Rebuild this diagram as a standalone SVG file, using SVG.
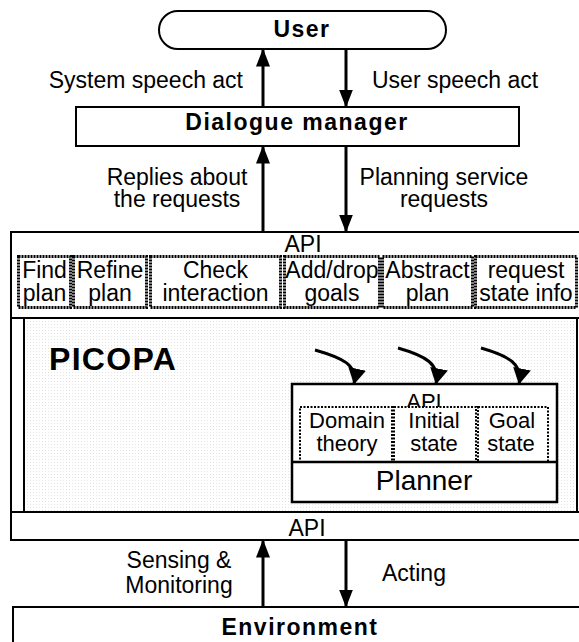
<svg xmlns="http://www.w3.org/2000/svg" width="579" height="642" viewBox="0 0 579 642">
<defs>
<style>
.t{font-family:"Liberation Sans",Arial,sans-serif;font-size:23px;fill:#000}
.b{font-weight:bold;letter-spacing:1.5px}
.c{text-anchor:middle}
.box{fill:#fff;stroke:#000;stroke-width:2}
.dot{fill:#fff;stroke:#000;stroke-width:3;stroke-dasharray:2 1}
.dot2{fill:#fff;stroke:#000;stroke-width:2;stroke-dasharray:2 1.5}
.ln{stroke:#000;stroke-width:3;fill:none}
.thin{stroke:#000;stroke-width:2;fill:none}
</style>
<marker id="ah" viewBox="0 0 18 14" refX="17.5" refY="7" markerWidth="18" markerHeight="14" markerUnits="userSpaceOnUse" orient="auto"><path d="M0,0 L18,7 L0,14 z" fill="#000"/></marker>
<marker id="ch" viewBox="0 0 16 18" refX="15.5" refY="9" markerWidth="16" markerHeight="18" markerUnits="userSpaceOnUse" orient="auto"><path d="M0,0 L16,9 L0,18 z" fill="#000"/></marker>
<pattern id="dots" width="3" height="3" patternUnits="userSpaceOnUse"><rect width="3" height="3" fill="#fff"/><rect width="1" height="1" fill="#e4e4e4"/></pattern>
</defs>
<rect width="579" height="642" fill="#fff"/>

<g id="user">
<rect class="box" x="159" y="11" width="287" height="38" rx="19"/>
<text class="t b c" x="302" y="37">User</text>
</g>

<g id="dialogue-manager">
<rect class="box" x="76" y="107" width="443" height="39"/>
<text class="t b c" x="297" y="130">Dialogue manager</text>
</g>

<g id="picopa">
<rect class="box" x="11" y="232" width="600" height="308"/>
<rect x="24" y="318" width="553" height="194" fill="url(#dots)" stroke="#000" stroke-width="2"/>
<line class="thin" x1="11" y1="318" x2="590" y2="318"/>
<line class="thin" x1="11" y1="512" x2="590" y2="512"/>
<text class="t c" x="303" y="252">API</text>
<g id="find-plan"><rect class="dot" x="18.5" y="256.5" width="52" height="51"/><text class="t c" x="44.5" y="278">Find</text><text class="t c" x="44.5" y="301">plan</text></g>
<g id="refine-plan"><rect class="dot" x="73.5" y="256.5" width="73" height="51"/><text class="t c" x="110" y="278">Refine</text><text class="t c" x="110" y="301">plan</text></g>
<g id="check-interaction"><rect class="dot" x="150.5" y="256.5" width="130" height="51"/><text class="t c" x="215.5" y="278">Check</text><text class="t c" x="215.5" y="301">interaction</text></g>
<g id="add-drop-goals"><rect class="dot" x="284.5" y="256.5" width="95" height="51"/><text class="t c" x="332" y="278">Add/drop</text><text class="t c" x="332" y="301">goals</text></g>
<g id="abstract-plan"><rect class="dot" x="382.5" y="256.5" width="90" height="51"/><text class="t c" x="427.5" y="278">Abstract</text><text class="t c" x="427.5" y="301">plan</text></g>
<g id="request-state-info"><rect class="dot" x="475.5" y="256.5" width="101" height="51"/><text class="t c" x="526" y="278">request</text><text class="t c" x="526" y="301">state info</text></g>
<text class="t" x="49" y="370" style="font-size:32px;font-weight:bold;letter-spacing:1.3px">PICOPA</text>
<text class="t c" x="307" y="536">API</text>
</g>

<g id="planner">
<rect x="292" y="384" width="265" height="118" fill="#fff" stroke="#000" stroke-width="2.5"/>
<text class="t c" x="424" y="409" style="font-size:22px">API</text>
<g id="domain-theory"><rect class="dot2" x="300" y="407" width="92" height="55"/><text class="t c" x="347" y="428" style="font-size:22px">Domain</text><text class="t c" x="347" y="451" style="font-size:22px">theory</text></g>
<g id="initial-state"><rect class="dot2" x="394" y="407" width="82" height="55"/><text class="t c" x="434" y="428" style="font-size:22px">Initial</text><text class="t c" x="434" y="451" style="font-size:22px">state</text></g>
<g id="goal-state"><rect class="dot2" x="478" y="407" width="70" height="55"/><text class="t c" x="512" y="428" style="font-size:22px">Goal</text><text class="t c" x="511" y="451" style="font-size:22px">state</text></g>
<line x1="292" y1="462" x2="557" y2="462" stroke="#000" stroke-width="2.5"/>
<text class="t c" x="424" y="490" style="font-size:28px">Planner</text>
</g>

<g id="environment">
<rect class="box" x="13" y="607" width="600" height="60"/>
<text class="t b c" x="300" y="635">Environment</text>
</g>

<g id="connectors">
<line class="ln" x1="263" y1="107" x2="263" y2="49" marker-end="url(#ah)"/>
<line class="ln" x1="346" y1="49" x2="346" y2="107" marker-end="url(#ah)"/>
<line class="ln" x1="263" y1="232" x2="263" y2="146" marker-end="url(#ah)"/>
<line class="ln" x1="346" y1="146" x2="346" y2="232" marker-end="url(#ah)"/>
<line class="ln" x1="263" y1="607" x2="263" y2="540" marker-end="url(#ah)"/>
<line class="ln" x1="346" y1="540" x2="346" y2="607" marker-end="url(#ah)"/>
<path class="ln" d="M315,350 C343,358 358,365 354,384" marker-end="url(#ch)"/>
<path class="ln" d="M398,348 C426,356 440,364 436,384" marker-end="url(#ch)"/>
<path class="ln" d="M481,348 C509,356 523,364 519,384" marker-end="url(#ch)"/>
</g>

<g id="labels">
<text class="t" x="243" y="88" text-anchor="end">System speech act</text>
<text class="t" x="372" y="88">User speech act</text>
<text class="t c" x="177" y="185">Replies about</text>
<text class="t c" x="177" y="207">the requests</text>
<text class="t c" x="444" y="185">Planning service</text>
<text class="t c" x="444" y="207">requests</text>
<text class="t c" x="179" y="568">Sensing &amp;</text>
<text class="t c" x="179" y="593">Monitoring</text>
<text class="t" x="382" y="581">Acting</text>
</g>
</svg>
